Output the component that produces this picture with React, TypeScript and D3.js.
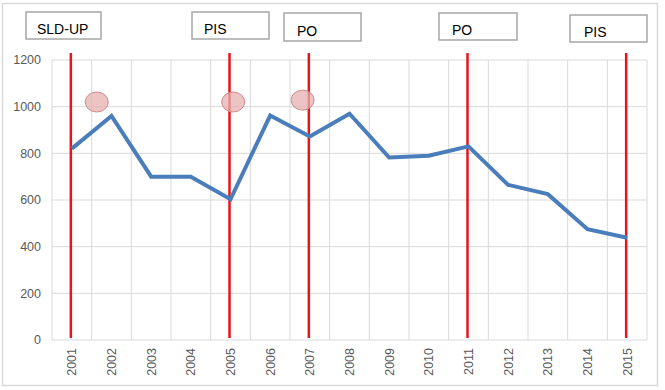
import React from "react";
import * as d3 from "d3";

// data
const years = ["2001", "2002", "2003", "2004", "2005", "2006", "2007", "2008", "2009", "2010", "2011", "2012", "2013", "2014", "2015"];
const values = [820, 960, 700, 700, 603, 962, 872, 970, 782, 790, 830, 665, 625, 475, 438];
const yTicks = [0, 200, 400, 600, 800, 1000, 1200];
const eventYears = ["2001", "2005", "2007", "2011", "2015"];
const eventLabels = ["SLD-UP", "PIS", "PO", "PO", "PIS"];
// pink markers: position as fractional category index and value
const markerIndex = [0.64, 4.08, 5.83];
const markerValue = [1020, 1020, 1028];

// label boxes are free floating in the original, so layout only
const boxes = [
  { x: 26, y: 12, w: 75, h: 27, tx: 11, ty: 22 },
  { x: 192, y: 12, w: 77, h: 27, tx: 12, ty: 22 },
  { x: 284, y: 13, w: 77, h: 28, tx: 13, ty: 23 },
  { x: 439, y: 13, w: 78, h: 27, tx: 13, ty: 22 },
  { x: 570, y: 15, w: 77, h: 27, tx: 14, ty: 22 },
];

const W = 665, H = 390;
const left = 52, right = 647, top = 60, bottom = 340;

export default function App() {
  const x = d3.scaleBand().domain(years).range([left, right]);
  const xi = d3.scaleLinear().domain([0, years.length]).range([left, right]);
  const y = d3.scaleLinear().domain([0, 1200]).range([bottom, top]);

  const line = d3.line<number>()
    .x((d, i) => x(years[i])! + x.bandwidth() / 2)
    .y(d => y(d));

  const font = "'Liberation Sans', Arial, sans-serif";

  return (
    <svg width={W} height={H} style={{ position: "absolute", left: 0, top: 0 }}>
      <rect x={0} y={0} width={W} height={H} fill="#fff" />
      <rect x={2.5} y={3.5} width={655} height={382} fill="none" stroke="#d9d9d9" strokeWidth={1.5} />

      {/* gridlines */}
      {yTicks.map(t => (
        <line key={"h" + t} x1={left} x2={right} y1={y(t)} y2={y(t)} stroke="#d9d9d9" strokeWidth={1} />
      ))}
      {d3.range(years.length + 1).map(i => (
        <line key={"v" + i} x1={xi(i)} x2={xi(i)} y1={top} y2={bottom} stroke="#d9d9d9" strokeWidth={1} />
      ))}

      {/* y labels */}
      {yTicks.map(t => (
        <text key={"yl" + t} x={41} y={y(t)} dy="0.35em" textAnchor="end" fontSize={12.5} fill="#595959" fontFamily={font}>{t}</text>
      ))}

      {/* x labels */}
      {years.map(yr => {
        const cx = x(yr)! + x.bandwidth() / 2;
        return (
          <text key={"xl" + yr} transform={`translate(${cx + 4.5},348) rotate(-90)`} textAnchor="end" fontSize={12.5} fill="#595959" fontFamily={font}>{yr}</text>
        );
      })}

      {/* red event lines */}
      {eventYears.map(yr => {
        const cx = x(yr)! + x.bandwidth() / 2 - 1;
        return <line key={"e" + yr} x1={cx} x2={cx} y1={53} y2={338} stroke="#e8141c" strokeWidth={2.5} />;
      })}

      {/* data line */}
      <path d={line(values)!} fill="none" stroke="#4a7ebb" strokeWidth={4} strokeLinejoin="miter" />

      {/* pink markers */}
      {markerIndex.map((m, i) => (
        <ellipse key={"m" + i} cx={xi(m + 0.5) - 0.5} cy={y(markerValue[i])} rx={11.5} ry={10} fill="#e6b0b0" fillOpacity={0.75} stroke="#d08a8a" strokeWidth={1} />
      ))}

      {/* label boxes */}
      {boxes.map((b, i) => (
        <g key={"b" + i}>
          <rect x={b.x} y={b.y} width={b.w} height={b.h} fill="#fff" stroke="#a6a6a6" strokeWidth={1.5} />
          <text x={b.x + b.tx} y={b.y + b.ty} fontSize={14} fill="#000" fontFamily={font}>{eventLabels[i]}</text>
        </g>
      ))}
    </svg>
  );
}
